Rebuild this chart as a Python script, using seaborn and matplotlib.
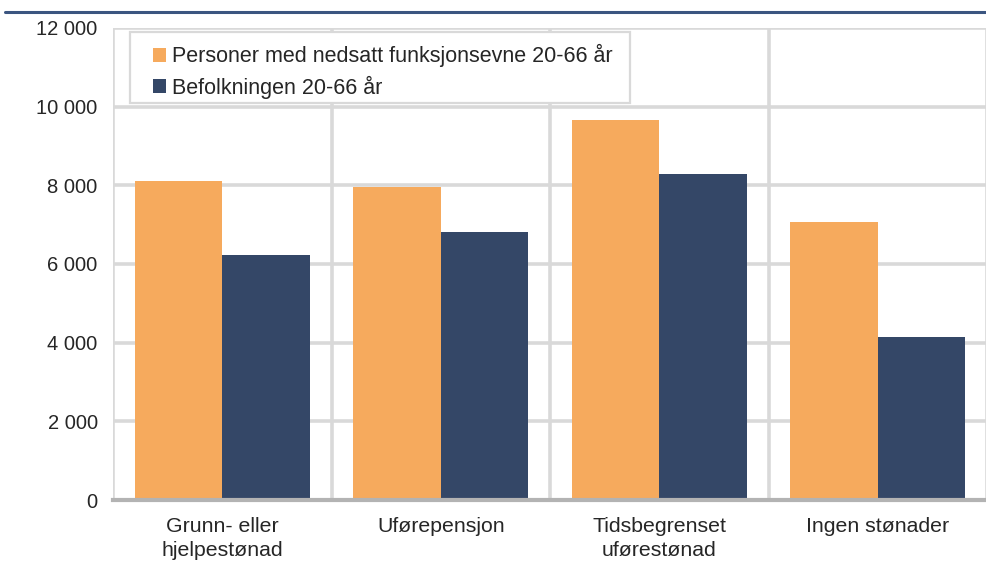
import matplotlib.pyplot as plt
import seaborn as sns
import pandas as pd
from matplotlib.lines import Line2D
from matplotlib.patches import Rectangle

categories = ["Grunn- eller\nhjelpestønad", "Uførepensjon", "Tidsbegrenset\nuførestønad", "Ingen stønader"]
funksjon = [8110, 7950, 9660, 7070]
befolkning = [6230, 6810, 8290, 4140]
series = ["Personer med nedsatt funksjonsevne 20-66 år", "Befolkningen 20-66 år"]
yticks = [0, 2000, 4000, 6000, 8000, 10000, 12000]

df = pd.DataFrame({
    "kategori": categories * 2,
    "verdi": funksjon + befolkning,
    "gruppe": [series[0]] * 4 + [series[1]] * 4,
})

sns.set_style("white")
plt.rcParams["font.family"] = ["Liberation Sans", "DejaVu Sans"]

fig = plt.figure(figsize=(9.87, 5.70), dpi=100)
ax = fig.add_axes([0.1145, 0.1228, 0.8855, 0.8282])

grid_c = "#d9d9d9"
for yv in yticks[1:]:
    ax.axhline(yv, color=grid_c, lw=2.6, zorder=0)
for xv in [-0.5, 0.5, 1.5, 2.5, 3.5]:
    ax.axvline(xv, color=grid_c, lw=2.6, zorder=0)

sns.barplot(data=df, x="kategori", y="verdi", hue="gruppe",
            palette=["#f6aa5d", "#344767"], width=0.8, saturation=1,
            edgecolor="none", ax=ax, zorder=2)

ax.set_xlim(-0.5, 3.5)
ax.set_ylim(0, 12000)
ax.set_yticks(yticks)
ax.set_yticklabels([f"{v:,}".replace(",", " ") for v in yticks], fontsize=14.5)
ax.tick_params(axis="x", labelsize=15.3, pad=12, length=0)
ax.tick_params(axis="y", length=0, pad=11)
for lbl in ax.get_xticklabels():
    lbl.set_linespacing(1.35)
ax.set_xlabel("")
ax.set_ylabel("")

for s in ["top", "right", "left"]:
    ax.spines[s].set_visible(False)
ax.spines["bottom"].set_color("#b3b3b3")
ax.spines["bottom"].set_linewidth(3)
ax.spines["bottom"].set_zorder(3)

# legend box drawn separately so the padding matches
ax.add_patch(Rectangle((0.0195, 0.841), 0.572, 0.1504, transform=ax.transAxes,
                       facecolor="white", edgecolor=grid_c, lw=1.6, zorder=3))
leg = ax.legend(loc="upper left", bbox_to_anchor=(0.0458, 0.966), fontsize=15.5,
                frameon=False, handlelength=0.62, handleheight=0.62,
                handletextpad=0.25, borderpad=0, labelspacing=0.4,
                borderaxespad=0)
leg.set_zorder(4)

fig.add_artist(Line2D([0.005, 1.0], [0.979, 0.979], color="#3b5580", lw=2.2))

fig.savefig("out.png", dpi=100)
